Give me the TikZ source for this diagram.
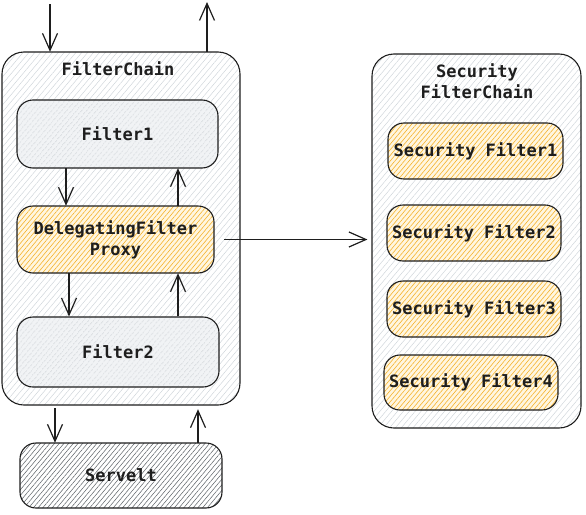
\documentclass[tikz,border=0pt]{standalone}
\usepackage{fontspec}
\setmonofont{DejaVu Sans Mono}
\usetikzlibrary{patterns.meta,arrows.meta}

\definecolor{ink}{HTML}{1E1E1E}
\definecolor{hachgrey}{HTML}{CED4DA}
\definecolor{boxgrey}{HTML}{F1F3F5}
\definecolor{hachmid}{HTML}{B8BEC4}
\definecolor{hachdark}{HTML}{5C6166}
\definecolor{hachorange}{HTML}{F5B22C}
\definecolor{boxorange}{HTML}{FFF6E0}

\tikzset{
  box/.style={draw=ink, line width=1.1pt, rounded corners=16pt, inner sep=0pt,
    font=\ttfamily\bfseries\fontsize{17}{21}\selectfont, align=center, text=ink},
  chain/.style={box, rounded corners=22pt,
    preaction={fill=white},
    pattern={Lines[angle=50,distance=4.5pt,line width=0.45pt]}, pattern color=hachgrey},
  plainbox/.style={box,
    preaction={fill=boxgrey},
    pattern={Lines[angle=50,distance=4pt,line width=0.5pt]}, pattern color=hachmid},
  orangebox/.style={box,
    preaction={fill=boxorange},
    pattern={Lines[angle=50,distance=3.6pt,line width=0.6pt]}, pattern color=hachorange},
  darkbox/.style={box,
    preaction={fill=white},
    pattern={Lines[angle=50,distance=3.6pt,line width=0.5pt]}, pattern color=hachdark},
  title/.style={font=\ttfamily\bfseries\fontsize{17}{20.5}\selectfont, align=center, text=ink, inner sep=0pt},
  arr/.style={draw=ink, line width=1.2pt,
    -{Straight Barb[length=17pt,width=15pt,line width=1.2pt]}},
}

\begin{document}
\begin{tikzpicture}[x=1pt,y=-1pt]
\useasboundingbox (0,0) rectangle (586,514);

% the servlet filter chain and its filters
\node[chain, minimum width=238pt, minimum height=353pt] (fc) at (121,228.5) {};
\node[title] (fctitle) at (118,69) {FilterChain};
\node[plainbox, minimum width=201pt, minimum height=68pt] (f1) at (117.5,134) {\raisebox{-3pt}{Filter1}};
\node[orangebox, minimum width=197pt, minimum height=67pt] (dfp) at (115.5,239.5) {\raisebox{-2pt}{DelegatingFilter}\\\raisebox{-2pt}{Proxy}};
\node[plainbox, minimum width=202pt, minimum height=70pt] (f2) at (118,352) {\raisebox{-2pt}{Filter2}};
\node[darkbox, minimum width=202pt, minimum height=65pt] (srv) at (121,475.5) {Servelt};

% the security filter chain
\node[chain, minimum width=209pt, minimum height=374pt] (sfc) at (476.5,241) {};
\node[title] (sfctitle) at (477,81) {Security\\FilterChain};
\node[orangebox, minimum width=175pt, minimum height=56pt] (sf1) at (475.5,151) {Security Filter1};
\node[orangebox, minimum width=174pt, minimum height=56pt] (sf2) at (474,233) {Security Filter2};
\node[orangebox, minimum width=174pt, minimum height=56pt] (sf3) at (474,309) {Security Filter3};
\node[orangebox, minimum width=174pt, minimum height=55pt] (sf4) at (471,382.5) {Security Filter4};

% request in and response out
\coordinate (reqin) at (50,4);
\coordinate (respout) at (207,2);
\draw[arr] (reqin) -- (fc.north -| reqin);
\draw[arr] (fc.north -| respout) -- (respout);

% passing through the chain
\draw[arr] ([xshift=-51.5pt]f1.south) -- ([xshift=-49.5pt]dfp.north);
\draw[arr] ([xshift=62.5pt]dfp.north) -- ([xshift=60.5pt]f1.south);
\draw[arr] ([xshift=-46.5pt]dfp.south) -- ([xshift=-49pt]f2.north);
\draw[arr] ([xshift=60pt]f2.north) -- ([xshift=62.5pt]dfp.south);
\draw[arr] ([xshift=-66pt,yshift=-3pt]fc.south) -- ([xshift=-66pt]srv.north);
\draw[arr] ([xshift=77pt]srv.north) -- ([xshift=77pt,yshift=-4pt]fc.south);

% delegation to the security filter chain
\draw[arr] ([xshift=10pt]dfp.east) -- ([xshift=-4pt]sfc.west |- dfp.east);
\end{tikzpicture}
\end{document}
